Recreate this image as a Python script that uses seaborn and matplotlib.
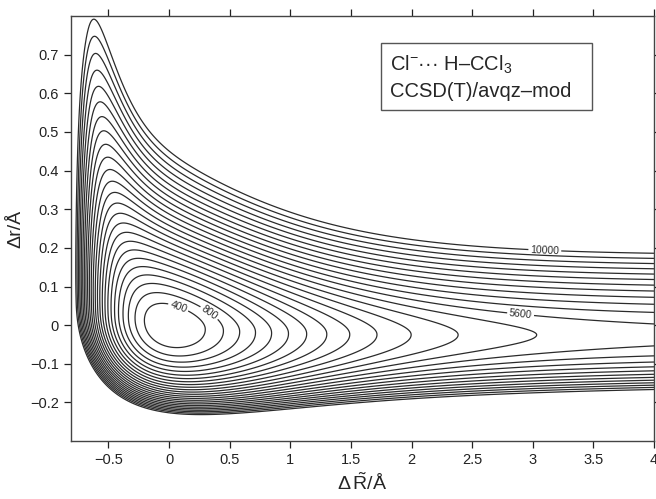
import numpy as np
import matplotlib
matplotlib.use("Agg")
import matplotlib.pyplot as plt
import seaborn as sns

# ---- contour levels (cm^-1) ----
levels = [400, 800, 1200, 1600, 2000, 2400, 2800, 3200, 3600, 4000, 4400,
          4800, 5200, 5600, 6000, 6400, 6800, 7200, 7600, 8000, 8400, 8800,
          9200, 9600, 10000]
labelled_levels = [400, 800, 5600, 10000]

# ---- model surface parameters ----
well_depth_R = 5600.0      # dissociation energy along dR~
range_R = 1.1              # Morse range parameter along dR~
coupling = 0.4             # wall shift for compressed C-H
coupling_smooth = 0.05
depth_r0 = 19000.0         # C-H Morse depth at the minimum
depth_hard_slope = 2200.0  # growth of C-H depth (compressed side)
range_r = 2.4              # C-H Morse range (compressed side)
soft_mid = 1.552           # C-H Morse range (stretched side) vs dR~
soft_amp = 1.627
soft_centre = -0.45
soft_width = 0.4
wall_height = 350.0        # Cl...H repulsive wall at the top-left peak
wall_rate = 14.0
wall_slope = 2.2
wall_peak = (-0.72, 0.72)
shift_inf = -0.025         # valley position at large dR~
shift_rate = 1.5

x_ticks = [-0.5, 0, 0.5, 1, 1.5, 2, 2.5, 3, 3.5, 4]
x_tick_labels = ["\u22120.5", "0", "0.5", "1", "1.5", "2", "2.5", "3", "3.5", "4"]
y_ticks = [-0.2, -0.1, 0, 0.1, 0.2, 0.3, 0.4, 0.5, 0.6, 0.7]
y_tick_labels = ["\u22120.2", "\u22120.1", "0", "0.1", "0.2", "0.3", "0.4", "0.5", "0.6", "0.7"]
x_range = (-0.81, 4.0)
y_range = (-0.3, 0.8)


def surface(R, r):
    r0 = shift_inf * (1 - np.exp(-shift_rate * R))
    dr = r - r0
    neg_r = -coupling_smooth * np.logaddexp(0, -r / coupling_smooth)
    v_R = well_depth_R * (1 - np.exp(-range_R * (R + coupling * neg_r))) ** 2
    d_hard = depth_r0 + depth_hard_slope * R
    d_soft = depth_r0
    b_soft = soft_mid + soft_amp * np.tanh((R - soft_centre) / soft_width)
    v_hard = d_hard * (1 - np.exp(-range_r * dr)) ** 2
    v_soft = d_soft * (1 - np.exp(-b_soft * dr)) ** 2
    q = (r - wall_slope * R) - (wall_peak[1] - wall_slope * wall_peak[0])
    wall = wall_height * np.exp(wall_rate * q)
    return v_R + np.where(dr > 0, v_soft, v_hard) + wall


sns.set_theme(style="ticks")
plt.rcParams['font.family'] = ['Liberation Sans', 'DejaVu Sans']
plt.rcParams['mathtext.fontset'] = 'custom'
plt.rcParams['mathtext.rm'] = 'Liberation Sans'
plt.rcParams['mathtext.it'] = 'Liberation Sans:italic'

fig = plt.figure(figsize=(6.56, 4.99), dpi=100)
ax = fig.add_axes([0.108, 0.116, 0.889, 0.852])

Rg = np.linspace(x_range[0], x_range[1], 800)
rg = np.linspace(y_range[0], y_range[1], 700)
RR, rr = np.meshgrid(Rg, rg)
V = surface(RR, rr)

plain_levels = [lv for lv in levels if lv not in labelled_levels]
ax.contour(RR, rr, V, levels=plain_levels, colors="#2b2b2b", linewidths=0.9)
cs_lab = ax.contour(RR, rr, V, levels=labelled_levels, colors="#2b2b2b",
                    linewidths=0.9)
ax.clabel(cs_lab, fmt="%d", fontsize=7.5, inline=True, inline_spacing=2,
          manual=[(0.08, 0.05), (0.35, 0.04), (2.9, 0.03), (3.1, 0.2)])

ax.set_xlim(*x_range)
ax.set_ylim(*y_range)
ax.set_xticks(x_ticks)
ax.set_xticklabels(x_tick_labels)
ax.set_yticks(y_ticks)
ax.set_yticklabels(y_tick_labels)
ax.tick_params(axis="both", which="both", direction="out", length=5, width=0.9,
               labelsize=10.5, top=True, right=True, colors="#222222")
for s in ax.spines.values():
    s.set_visible(True)
    s.set_color("#444444")
    s.set_linewidth(1.0)

ax.set_xlabel(r"$\Delta\,\tilde{\mathrm{R}}/\mathrm{\AA}$", fontsize=14, labelpad=4)
ax.set_ylabel("\u0394r/\u00c5", fontsize=14, labelpad=4)

ax.text(0.547, 0.912,
        "Cl$^{\u2212}$\u00b7\u00b7\u00b7 H\u2013CCl$_3$\nCCSD(T)/avqz\u2013mod  ",
        transform=ax.transAxes, fontsize=14.5, linespacing=1.45, va="top",
        ha="left",
        bbox=dict(boxstyle="square,pad=0.45", fc="white", ec="#555555", lw=1.0))

fig.savefig("out.png", dpi=100)
